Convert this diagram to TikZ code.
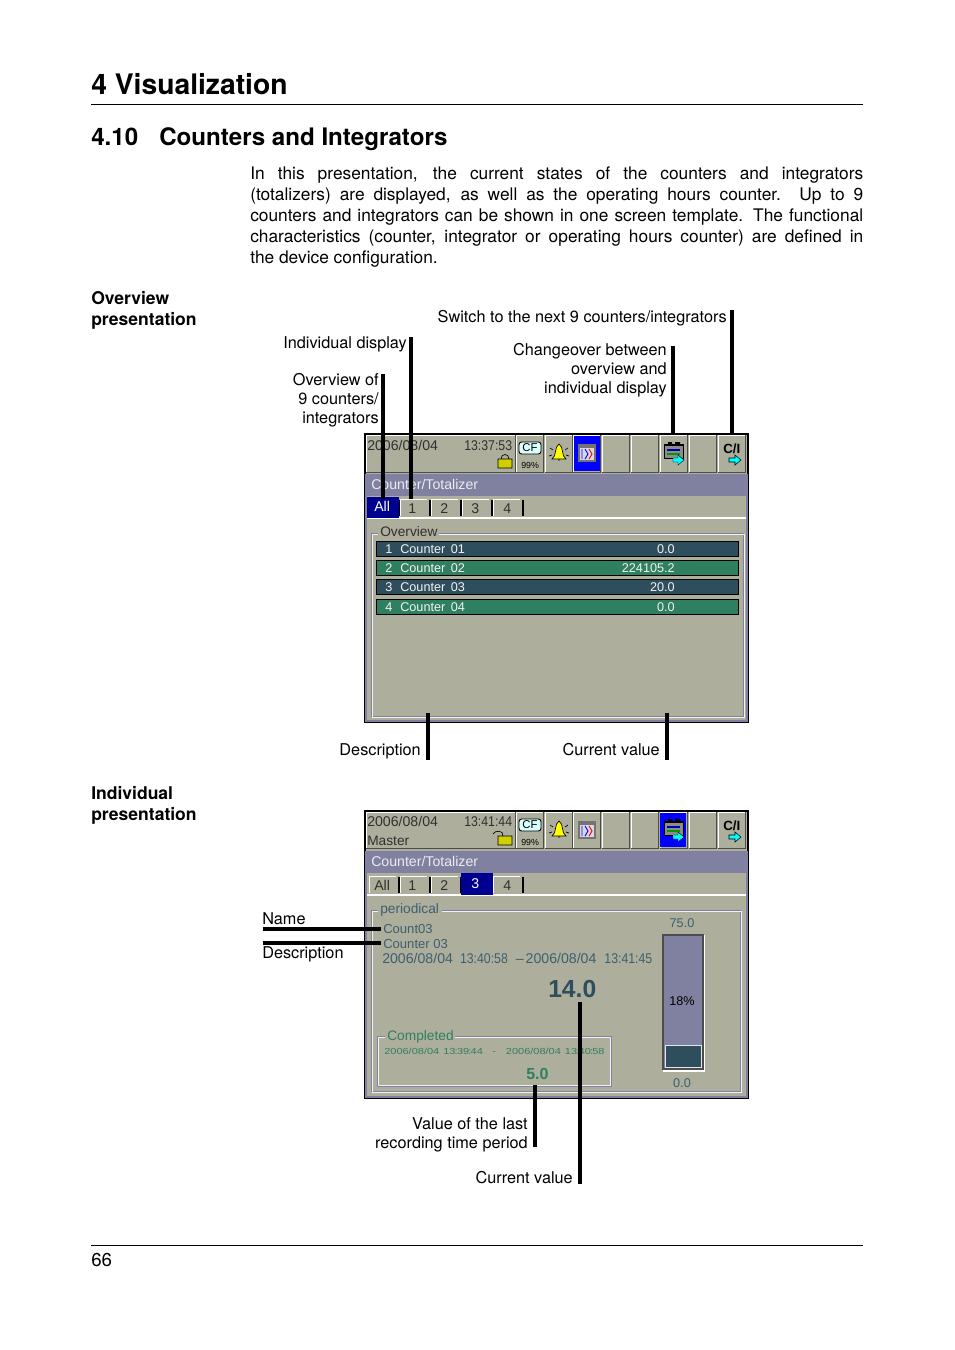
\documentclass[tikz,border=0pt]{standalone}
\usepackage{fontspec}
\setmainfont{TeX Gyre Heros}
\newfontfamily\hmifont{Liberation Sans}
\newfontfamily\hmiwide[FakeStretch=1.25]{Liberation Sans}
\newfontfamily\hmitight[FakeStretch=0.87]{Liberation Sans}
\usetikzlibrary{positioning,calc}
\definecolor{hmibg}{HTML}{AEAE9C}
\definecolor{hmilav}{HTML}{8080A0}
\definecolor{hmidark}{HTML}{2E4E5E}
\definecolor{hmigreen}{HTML}{2E8060}
\definecolor{hmiblue}{HTML}{000090}
\definecolor{hmikey}{HTML}{0000FF}
\definecolor{hmiteal}{HTML}{3C6070}
\definecolor{hmicyan}{HTML}{00FFFF}
\definecolor{hmiyellow}{HTML}{FFFF00}
\definecolor{hmilock}{HTML}{D0D000}
\definecolor{hmitxt}{HTML}{303030}
\newcommand{\scol}{\kern-.6pt:\kern-.6pt}
\tikzset{
    pagetext/.style={inner sep=0pt,font=\fontsize{12.2}{14.25}\selectfont},
    labelr/.style={pagetext,align=right,anchor=north east},
    labell/.style={pagetext,align=left,anchor=north west},
    sidehead/.style={inner sep=0pt,align=left,anchor=north west,font=\fontsize{13.15}{15.75}\selectfont\bfseries},
    leader/.style={line width=3pt,black,line cap=butt},
    pagerule/.style={line width=0.7pt,black},
    hmitext/.style={inner sep=0pt,anchor=base west,font=\fontsize{10.6}{12}\hmifont,text=hmitxt},
    timetext/.style={hmitext,font=\fontsize{10.6}{12}\hmitight},
    grouptext/.style={hmitext,font=\fontsize{10.3}{12}\hmifont},
    numtext/.style={hmitext,anchor=base,font=\fontsize{9.5}{12}\hmifont},
    hmibold/.style={hmitext,font=\fontsize{18.5}{20}\hmifont\bfseries},
    hmismall/.style={hmitext,font=\fontsize{6.6}{8}\hmiwide},
    rowtext/.style={hmitext,font=\fontsize{9.5}{12}\hmifont,text=white!85!hmibg},
    framebox/.style={draw=black,line width=1.5pt,fill=hmibg},
    groupline/.style={draw=white!90!hmilav,line width=0.7pt},
    grouplav/.style={draw=hmilav,line width=0.7pt},
    bevel/.style={draw=hmilav,line width=1.2pt},
}

% toolbar: #1 is the top edge, #2 the left edge of the blue key
\newcommand{\hmibar}[3]{
    \begin{scope}[shift={(0,#1)}]
        \fill[hmibg] (366,0) rectangle (515,#3);
        \draw[white,line width=0.7pt] (366,#3) -- (366,0) -- (515,0);
        \draw[black!70,line width=0.7pt] (366,#3) -- (515,#3) -- (515,0);
        \foreach \bx in {516,545,573,602,631,660,689,718}{
            \fill[hmibg] (\bx,0) rectangle ++(27,#3);
            \draw[white,line width=0.7pt] (\bx,#3) -- (\bx,0) -- ++(27,0);
            \draw[black!70,line width=0.7pt] (\bx,#3) -- ++(27,0) -- ++(0,-#3);
        }
        \fill[hmikey] (#2,1) rectangle ++(26,#3-2);
    \end{scope}
}
% the icons of the keys: #1 is the name, #2 the y of the top edge
\newcommand{\hmiicons}[2]{
    \begin{scope}[shift={(0,#2)}]
        \draw[black,fill=hmicyan!15!white,rounded corners=2pt,line width=0.7pt] (519,7) rectangle (541,19);
        \node[hmitext,anchor=center,font=\fontsize{8.5}{9}\hmifont,text=black] (cf#1) at (530,13) {CF};
        \node[hmitext,font=\fontsize{6.6}{8}\hmifont,text=black] (pct#1) at (521,33.5) {99\%};
        % bell
        \fill[hmiyellow] (559,9) .. controls (554,12) and (557,21) .. (552,24) -- (566,24) .. controls (561,21) and (564,12) .. (559,9) -- cycle;
        \draw[black,line width=0.5pt] (559,9) .. controls (554,12) and (557,21) .. (552,24) -- (566,24) .. controls (561,21) and (564,12) .. (559,9) -- cycle;
        \draw[black,line width=0.5pt] (550,13) -- (553,15) (568,13) -- (565,15) (549,21) -- (552,20) (569,21) -- (566,20) (558,25) -- (560,25);
        % diagram key
        \fill[black!55] (578,9) rectangle (596,27);
        \fill[white!70!hmilav] (580,13) rectangle (594,25);
        \draw[blue,line width=0.7pt] (582,14) -- (582,24) (585,14) -- (588,19) -- (585,24);
        \draw[red,line width=0.7pt] (589,14) -- (592,19) -- (589,24);
        % data key
        \fill[black] (664,9) rectangle (684,24);
        \fill[black!45] (665,11) rectangle (683,23);
        \draw[blue!70!black,line width=1pt] (667,15) -- (680,15);
        \draw[green!60!black,line width=1pt] (667,19) -- (680,19);
        \fill[black] (668,7) rectangle (672,10) (675,7) rectangle (680,10);
        \fill[hmicyan] (673,23) -- (678,23) -- (678,20) -- (684,25) -- (678,30) -- (678,27) -- (673,27) -- cycle;
        \draw[black,line width=0.3pt] (673,23) -- (678,23) -- (678,20) -- (684,25) -- (678,30) -- (678,27) -- (673,27) -- cycle;
        % count key
        \node[hmitext,font=\fontsize{10}{10}\hmifont\bfseries,text=black] (ci#1) at (723,18) {C/I};
        \fill[hmicyan] (729,23) -- (735,23) -- (735,20) -- (741,25) -- (735,30) -- (735,27) -- (729,27) -- cycle;
        \draw[black,line width=0.4pt] (729,23) -- (735,23) -- (735,20) -- (741,25) -- (735,30) -- (735,27) -- (729,27) -- cycle;
    \end{scope}
}
% tabs row: #1 is the bottom edge
\newcommand{\hmitabs}[1]{
    \foreach \tx in {369,400,431,462,493}{
        \draw[white,line width=0.7pt] (\tx,#1-2) -- (\tx,#1-19) -- ++(27,0);
        \draw[black,line width=1pt] (\tx+30,#1-2) -- ++(0,-16);
    }
    \draw[white,line width=0.8pt] (366,#1) -- (746,#1);
}

\begin{document}
\begin{tikzpicture}[x=0.75pt,y=-0.75pt]
    \useasboundingbox (0,0) rectangle (954,1350);
    \fill[white] (0,0) rectangle (954,1350);

    % page head
    \node[inner sep=0pt,anchor=base west,font=\fontsize{21.2}{26}\selectfont\bfseries] (chapter) at (91,94.5) {4 Visualization};
    \coordinate (ruleTopL) at (91,104.5);
    \coordinate (ruleTopR) at (863,104.5);
    \draw[pagerule] (ruleTopL) -- (ruleTopR);
    \node[inner sep=0pt,anchor=base west,font=\fontsize{18.1}{22}\selectfont\bfseries] (secnum) at (91,145) {4.10};
    \node[inner sep=0pt,anchor=base west,font=\fontsize{18.1}{22}\selectfont\bfseries] (sectitle) at (159,145) {Counters and Integrators};
    \node[inner sep=0pt,anchor=north west,text width=459.75pt,align=justify,font=\fontsize{13}{15.75}\selectfont] (intro) at (250,167)
        {In this presentation, the current states of the counters and integrators\linebreak (totalizers) are displayed, as well as the operating hours counter. Up to 9\linebreak counters and integrators can be shown in one screen template. The functional\linebreak characteristics (counter, integrator or operating hours counter) are defined in\linebreak the device configuration.};
    \node[sidehead] (headOver) at (91,291) {Overview\\presentation};
    \node[sidehead] (headInd) at (91,786) {Individual\\presentation};

    % overview screen
    \draw[framebox] (365,434) rectangle (748,722);
    \hmibar{435}{574}{37}
    \hmiicons{a}{435}
    \node[hmitext] (dateA) at (367,450) {2006/08/04};
    \node[timetext] (timeA) at (464,450) {13:37:53};
    \fill[hmilock] (498,459) rectangle (512,468);
    \draw[black,line width=0.5pt] (498,459) rectangle (512,468) (501,459) .. controls (501,453) and (509,453) .. (509,459);
    \fill[hmilav] (366,475) rectangle (746,496);
    \node[hmitext,text=white!85!hmilav] (titleA) at (371,489) {Counter/Totalizer};
    \hmitabs{518}
    \fill[hmiblue] (367,497) rectangle (399,518);
    \node[hmitext,text=white] (tabAllA) at (374,511) {All};
    \node[hmitext] (tab1A) at (408,513) {1};
    \node[hmitext] (tab2A) at (440,513) {2};
    \node[hmitext] (tab3A) at (471,513) {3};
    \node[hmitext] (tab4A) at (503,513) {4};
    \draw[grouplav] (371,533) rectangle (743,716);
    \draw[groupline] (372,534) rectangle (744,717);
    \draw[bevel] (366,475) rectangle (747,721);
    \fill[hmibg] (378,526) rectangle (439,538);
    \node[grouptext] (groupA) at (380,536) {Overview};
    \foreach \ry/\rc/\rn/\rv/\rname in {541/hmidark/1/0.0/a,560/hmigreen/2/224105.2/b,579/hmidark/3/20.0/c,599/hmigreen/4/0.0/d}{
        \draw[black,fill=\rc,line width=0.7pt] (376,\ry) rectangle (738,\ry+15);
        \node[rowtext] (rowno\rname) at (385,\ry+12) {\rn};
        \node[rowtext] (rowtx\rname) at (400,\ry+12) {Counter\kern1.5pt\ 0\rn};
        \node[rowtext,anchor=base east] (rowval\rname) at (675,\ry+12) {\rv};
    }

    % individual screen
    \draw[framebox] (365,811) rectangle (748,1098);
    \hmibar{812}{660}{36}
    \hmiicons{b}{812}
    \node[hmitext] (dateB) at (367,826) {2006/08/04};
    \node[timetext] (timeB) at (464,826) {13:41:44};
    \node[grouptext] (master) at (367,845) {Master};
    \fill[hmilock] (498,836) rectangle (512,845);
    \draw[black,line width=0.5pt] (498,836) rectangle (512,845) (498,836) -- (503,836) .. controls (504,830) and (495,830) .. (493,834);
    \fill[hmilav] (366,852) rectangle (746,873);
    \node[hmitext,text=white!85!hmilav] (titleB) at (371,866) {Counter/Totalizer};
    \hmitabs{895}
    \fill[hmiblue] (461,873) rectangle (493,895);
    \node[hmitext] (tabAllB) at (374,890) {All};
    \node[hmitext] (tab1B) at (408,890) {1};
    \node[hmitext] (tab2B) at (440,890) {2};
    \node[hmitext,text=white] (tab3B) at (471,888) {3};
    \node[hmitext] (tab4B) at (503,890) {4};
    \draw[grouplav] (371,910) rectangle (740,1091);
    \draw[groupline] (372,911) rectangle (741,1092);
    \draw[bevel] (366,852) rectangle (747,1097);
    \fill[hmibg] (378,902) rectangle (442,916);
    \node[grouptext,text=hmiteal] (groupB) at (380,913) {periodical};
    \node[grouptext,font=\fontsize{9.8}{12}\hmifont,text=hmiteal] (countName) at (383,933) {Count03};
    \node[grouptext,font=\fontsize{9.8}{12}\hmifont,text=hmiteal] (countDesc) at (383,948) {Counter 03};
    \node[hmitext,text=hmiteal] (period) at (382,963) {2006/08/04\kern5.25pt{\hmitight 13:40:58}\kern6pt\textendash\kern1.5pt2006/08/04\kern6pt{\hmitight 13:41:45}};
    \node[hmibold,text=hmidark] (curVal) at (548,997) {14.0};
    \node[numtext,text=hmiteal] (barTop) at (682,927) {75.0};
    \draw[white,line width=1pt] (704,935) -- (704,1071) -- (663,1071);
    \draw[black!70,fill=hmilav,line width=1pt] (663,935) rectangle (703,1069);
    \fill[hmidark] (665,1045) rectangle (701,1067);
    \draw[white!80!hmilav,line width=0.7pt] (665,1045) rectangle (701,1067);
    \node[numtext,text=black] (barPct) at (682,1005) {18\%};
    \node[numtext,text=hmiteal] (barLow) at (682,1087) {0.0};
    \draw[grouplav] (377,1036) rectangle (611,1086);
    \draw[groupline] (378,1037) rectangle (610,1085);
    \fill[hmibg] (385,1029) rectangle (455,1042);
    \node[grouptext,text=hmigreen] (groupC) at (387,1040) {Completed};
    \node[hmismall,text=hmigreen] (lastPeriod) at (384,1054) {2006/08/04\kern3pt13\scol39\scol44\kern7pt-\kern7.5pt2006/08/04\kern3pt13\scol40\scol58};
    \node[hmibold,text=hmigreen,font=\fontsize{12}{14}\hmifont\bfseries] (lastVal) at (526,1079) {5.0};

    % overview labels
    \node[labelr] (lblSwitch) at (727,310) {Switch to the next 9 counters/integrators};
    \node[labelr] (lblChange) at (667,343) {Changeover between\\overview and\\individual display};
    \node[labelr] (lblInd) at (407,336) {Individual display};
    \node[labelr] (lblOver) at (379,373) {Overview of\\9 counters/\\integrators};
    \node[labelr] (lblDesc) at (421,743) {Description};
    \node[labelr] (lblCur) at (660,743) {Current value};

    % individual labels
    \node[labell] (lblName) at (262,912) {Name};
    \node[labell] (lblDescB) at (262,946) {Description};
    \node[labelr] (lblLast) at (528,1117) {Value of the last\\recording time period};
    \node[labelr] (lblCurB) at (573,1171) {Current value};

    % leader lines
    \coordinate (swA) at (732,310);
    \coordinate (swB) at (732,434);
    \coordinate (chA) at (673,346);
    \coordinate (chB) at (673,434);
    \coordinate (inA) at (411,337);
    \coordinate (inB) at (411,499);
    \coordinate (ovA) at (383,374);
    \coordinate (ovB) at (383,499);
    \coordinate (deA) at (428,713);
    \coordinate (deB) at (428,760);
    \coordinate (cuA) at (667,713);
    \coordinate (cuB) at (667,760);
    \coordinate (naA) at (263,929);
    \coordinate (naB) at (381,929);
    \coordinate (dbA) at (263,943);
    \coordinate (dbB) at (381,943);
    \coordinate (vaA) at (535,1085);
    \coordinate (vaB) at (535,1147);
    \coordinate (crA) at (580,1002);
    \coordinate (crB) at (580,1184);
    \foreach \la/\lb in {swA/swB,chA/chB,inA/inB,ovA/ovB,deA/deB,cuA/cuB,naA/naB,dbA/dbB,vaA/vaB,crA/crB}
        \draw[leader] (\la) -- (\lb);

    % page foot
    \coordinate (ruleFootL) at (91,1245.5);
    \coordinate (ruleFootR) at (863,1245.5);
    \draw[pagerule] (ruleFootL) -- (ruleFootR);
    \node[inner sep=0pt,anchor=base west,font=\fontsize{14}{16}\selectfont] (pageno) at (91,1266) {66};
\end{tikzpicture}
\end{document}
